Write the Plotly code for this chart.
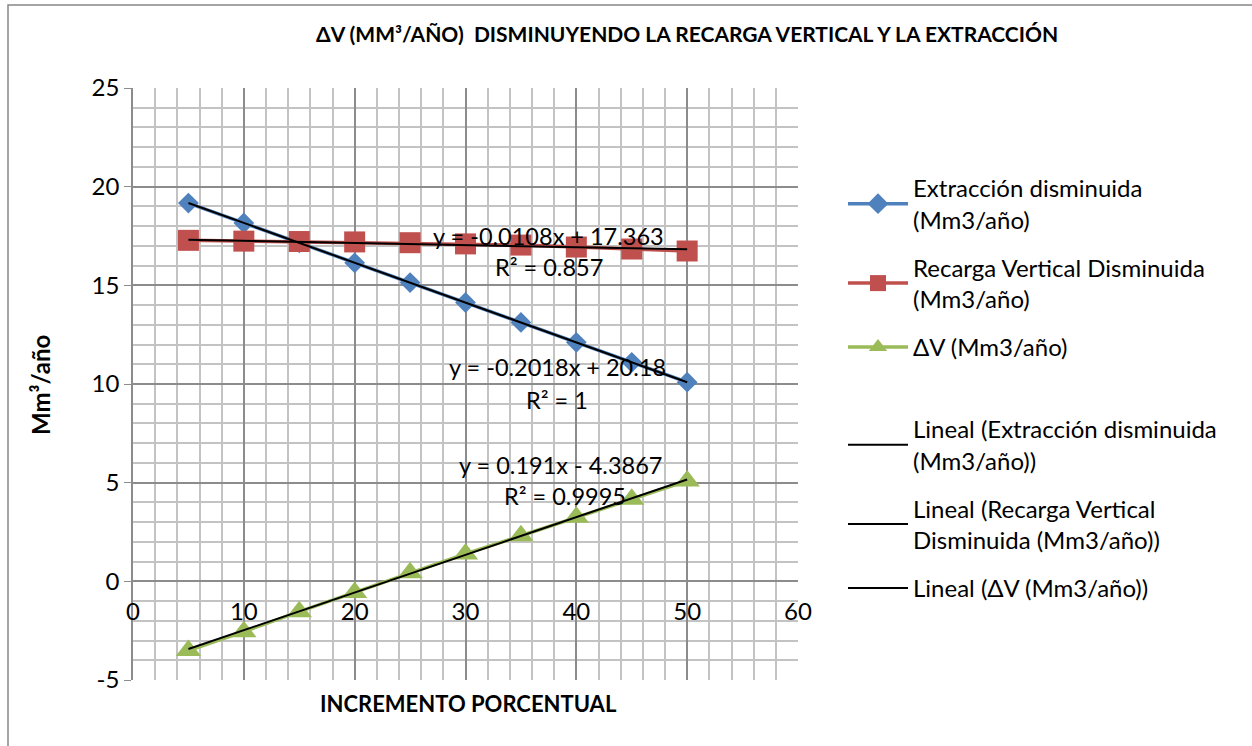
import plotly.graph_objects as go

# Percent increments (x axis)
incremento = [5, 10, 15, 20, 25, 30, 35, 40, 45, 50]

# Series values (Mm3/año)
extraccion = [19.17, 18.16, 17.15, 16.14, 15.14, 14.13, 13.12, 12.11, 11.10, 10.09]
recarga = [17.28, 17.24, 17.22, 17.20, 17.16, 17.10, 17.04, 16.94, 16.84, 16.74]
delta_v = [-3.51, -2.55, -1.54, -0.56, 0.44, 1.39, 2.31, 3.25, 4.16, 5.09]

# Linear trendline coefficients as printed on the chart
pendientes = [-0.2018, -0.0108, 0.191]
intercepts = [20.18, 17.363, -4.3867]
r2_textos = ["R² = 1", "R² = 0.857", "R² = 0.9995"]
ecuaciones = ["y = -0.2018x + 20.18", "y = -0.0108x + 17.363", "y = 0.191x - 4.3867"]

# Axis tick labels
y_ticks = [-5, 0, 5, 10, 15, 20, 25]
y_ticktext = ["-5", "0", "5", "10", "15", "20", "25"]
x_ticks = [0, 10, 20, 30, 40, 50, 60]
x_ticktext = ["0", "10", "20", "30", "40", "50", "60"]

nombres = ["Extracción disminuida<br>(Mm3/año)",
           "Recarga Vertical Disminuida<br>(Mm3/año)",
           "ΔV (Mm3/año)"]
nombres_lineal = ["Lineal (Extracción disminuida<br>(Mm3/año))",
                  "Lineal (Recarga Vertical<br>Disminuida (Mm3/año))",
                  "Lineal (ΔV (Mm3/año))"]

FONT = "Lato, Carlito, Calibri, sans-serif"
colores = ["#4F81BD", "#C0504D", "#9BBB59"]
simbolos = ["diamond", "square", "triangle-up"]
tamanos = [16, 21, 22]
series = [extraccion, recarga, delta_v]

# Plot area in pixels: left 133, right 798, top 88, bottom 680
L, R, T, B = 133, 798, 88, 680
def px_x(p):
    return (p - L) / (R - L)
def px_y(p):
    return (B - p) / (B - T)

fig = go.Figure()

for i, (serie, nombre, color, simb, tam) in enumerate(zip(series, nombres, colores, simbolos, tamanos)):
    fig.add_trace(go.Scatter(
        x=incremento, y=serie, name=nombre, mode="lines+markers",
        line=dict(color=color, width=3.5),
        marker=dict(symbol=simb, size=tam, color=color),
        legendgroup=f"d{i}", legend="legend",
    ))

x_ini, x_fin = incremento[0], incremento[-1]
for i, (m, b, nombre) in enumerate(zip(pendientes, intercepts, nombres_lineal)):
    fig.add_trace(go.Scatter(
        x=[x_ini, x_fin], y=[m * x_ini + b, m * x_fin + b], name=nombre,
        mode="lines", line=dict(color="black", width=2),
        legendgroup=f"t{i}", legend="legend2",
    ))

# Trendline equation labels (data coordinates)
etiquetas = [
    (ecuaciones[0], 38.3, 10.85), (r2_textos[0], 38.3, 9.2),
    (ecuaciones[1], 37.5, 17.5), (r2_textos[1], 37.5, 15.95),
    (ecuaciones[2], 38.6, 5.9), (r2_textos[2], 39.0, 4.3),
]
for texto, xv, yv in etiquetas:
    fig.add_annotation(x=xv, y=yv, text=texto, showarrow=False,
                       xanchor="center", yanchor="middle",
                       font=dict(family=FONT, size=23.5, color="black"))

fig.add_annotation(xref="paper", yref="paper", x=px_x(687), y=px_y(34),
                   xanchor="center", yanchor="middle",
                   text="<b>ΔV (MM³/AÑO)  DISMINUYENDO LA RECARGA VERTICAL Y LA EXTRACCIÓN</b>",
                   showarrow=False, font=dict(family=FONT, size=21, color="black"))
fig.add_annotation(xref="paper", yref="paper", x=px_x(468), y=px_y(703),
                   xanchor="center", yanchor="middle",
                   text="<b>INCREMENTO PORCENTUAL</b>", showarrow=False,
                   font=dict(family=FONT, size=22, color="black"))
fig.add_annotation(xref="paper", yref="paper", x=px_x(40), y=px_y(385),
                   xanchor="center", yanchor="middle",
                   text="<b>Mm³/año</b>", showarrow=False, textangle=-90,
                   font=dict(family=FONT, size=24, color="black"))

# Outer chart frame
fig.add_shape(type="rect", xref="paper", yref="paper",
              x0=px_x(8), x1=px_x(1262), y0=px_y(760), y1=px_y(5),
              line=dict(color="#868686", width=1.5), fillcolor="rgba(0,0,0,0)")

leg_font = dict(family=FONT, size=24, color="black")
fig.update_layout(
    width=1252, height=746,
    margin=dict(l=L, r=1252 - R, t=T, b=746 - B),
    paper_bgcolor="white", plot_bgcolor="white",
    font=dict(family=FONT, size=24, color="black"),
    showlegend=True,
    legend=dict(x=px_x(843), y=px_y(166), xanchor="left", yanchor="top",
                font=leg_font, tracegroupgap=14, itemwidth=60,
                bgcolor="rgba(0,0,0,0)"),
    legend2=dict(x=px_x(843), y=px_y(407), xanchor="left", yanchor="top",
                 font=leg_font, tracegroupgap=14, itemwidth=60,
                 bgcolor="rgba(0,0,0,0)"),
    xaxis=dict(range=[0, 60], tickvals=x_ticks, ticktext=x_ticktext,
               showgrid=True, gridcolor="#8c8c8c",
               gridwidth=1.5, zeroline=False, showline=False, ticks="",
               anchor="free", position=1 / 6, ticklabelstandoff=14,
               minor=dict(dtick=2, showgrid=True, gridcolor="#c3c3c3", gridwidth=1.5),
               tickfont=dict(family=FONT, size=24, color="black")),
    yaxis=dict(range=[-5, 25], tickvals=y_ticks, ticktext=y_ticktext,
               showgrid=True, gridcolor="#8c8c8c",
               gridwidth=1.5, zeroline=False, showline=True, linecolor="#8c8c8c",
               linewidth=1.5, ticks="outside", ticklen=7, tickcolor="#8c8c8c",
               minor=dict(dtick=1, showgrid=True, gridcolor="#c3c3c3", gridwidth=1.5),
               tickfont=dict(family=FONT, size=24, color="black")),
)

fig.write_html("out.html")
